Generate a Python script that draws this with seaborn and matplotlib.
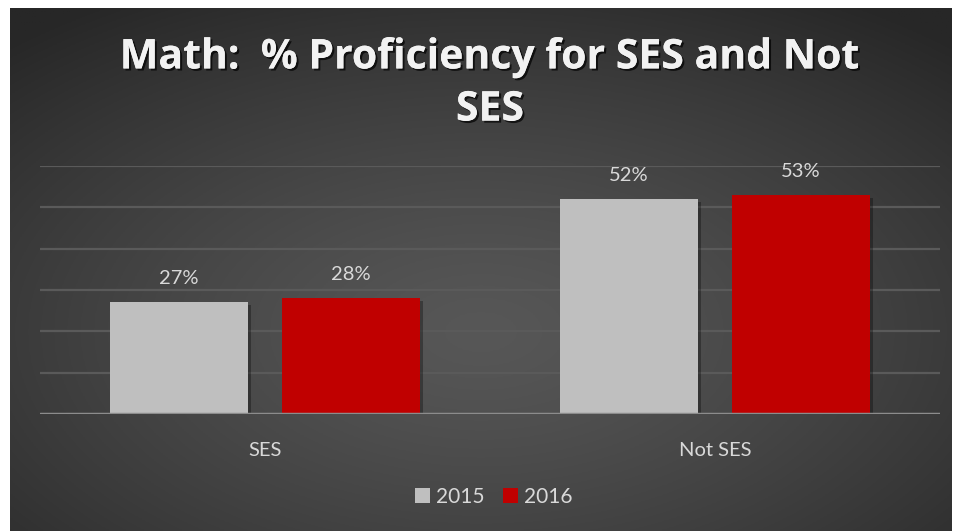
import numpy as np
import pandas as pd
import matplotlib
matplotlib.use("Agg")
import matplotlib.pyplot as plt
import matplotlib.patheffects as pe
import seaborn as sns

categories = ["SES", "Not SES"]
years = ["2015", "2016"]
values_2015 = [0.27, 0.52]
values_2016 = [0.28, 0.53]
title_text = "Math:  % Proficiency for SES and Not\nSES"

df = pd.DataFrame({
    "group": categories * 2,
    "year": [years[0]] * 2 + [years[1]] * 2,
    "value": values_2015 + values_2016,
})

sns.set_theme(style="white")
plt.rcParams["font.family"] = ["Lato", "DejaVu Sans"]

W, H = 954, 531
fig = plt.figure(figsize=(W / 100, H / 100), dpi=100, facecolor="white")

# background panel with radial gradient
bx0, by0, bx1, by1 = 10, 8, 952, 531
bg = fig.add_axes([bx0 / W, (H - by1) / H, (bx1 - bx0) / W, (by1 - by0) / H])
gx = np.linspace(0, 1, 400)
gy = np.linspace(0, 1, 240)
X, Y = np.meshgrid(gx, gy)
cx, cy = 0.5, 0.62
r = np.sqrt(((X - cx) / 0.75) ** 2 + ((Y - cy) / 0.75) ** 2)
r = np.clip(r, 0, 1)
inner, outer = 0x57 / 255, 0x27 / 255
val = inner + (outer - inner) * r ** 1.3
img = np.dstack([val, val, val])
bg.imshow(img, extent=[0, 1, 0, 1], origin="upper", aspect="auto")
bg.set_axis_off()

# main axes
ax_l, ax_r, ax_t, ax_b = 40, 940, 166, 414
ax = fig.add_axes([ax_l / W, (H - ax_b) / H, (ax_r - ax_l) / W, (ax_b - ax_t) / H])
ax.set_facecolor("none")

palette = {"2015": "#bfbfbf", "2016": "#c00000"}
sns.barplot(data=df, x="group", y="value", hue="year", order=categories,
            hue_order=years, palette=palette, width=0.764, gap=0.198,
            ax=ax, legend=False, saturation=1, zorder=3, linewidth=0, edgecolor="none")

for p in ax.patches:
    p.set_path_effects([pe.SimplePatchShadow(offset=(2, -2), shadow_rgbFace="black", alpha=0.3), pe.Normal()])

ax.set_ylim(0, 0.6)
ax.set_xlim(-0.5, 1.5)
for yv in np.arange(0.1, 0.61, 0.1):
    ax.axhline(yv, color="#5a5a5a", lw=1.6, zorder=1)
ax.axhline(0, color="#8c8c8c", lw=2.5, zorder=4)

for cont in ax.containers:
    labels = [f"{v * 100:.0f}%" for v in cont.datavalues]
    ax.bar_label(cont, labels=labels, padding=11, color="#d9d9d9", fontsize=14.5)

for s in ax.spines.values():
    s.set_visible(False)
ax.set_yticks([])
ax.set_xlabel("")
ax.set_ylabel("")
ax.tick_params(axis="x", length=0, pad=20, labelcolor="#d9d9d9", labelsize=14.5)

# title
fig.text(490 / W, 1 - 84 / H, title_text, ha="center", va="center", color="#f2f2f2",
         fontsize=29.5, fontweight="bold", linespacing=1.36, family=["Open Sans", "DejaVu Sans"],
         path_effects=[pe.withSimplePatchShadow(offset=(1.5, -1.5), shadow_rgbFace="black", alpha=0.7), pe.Normal()])

# legend
from matplotlib.patches import Patch
handles = [Patch(facecolor=palette[y], edgecolor="none", label=y) for y in years]
leg = fig.legend(handles=handles, loc="center", bbox_to_anchor=(494 / W, 1 - 497 / H),
                 ncol=2, frameon=False, fontsize=15, handlelength=0.7, handleheight=0.7,
                 handletextpad=0.3, columnspacing=0.9)
for t in leg.get_texts():
    t.set_color("#d9d9d9")

fig.savefig("out.png", dpi=100, facecolor="white")
